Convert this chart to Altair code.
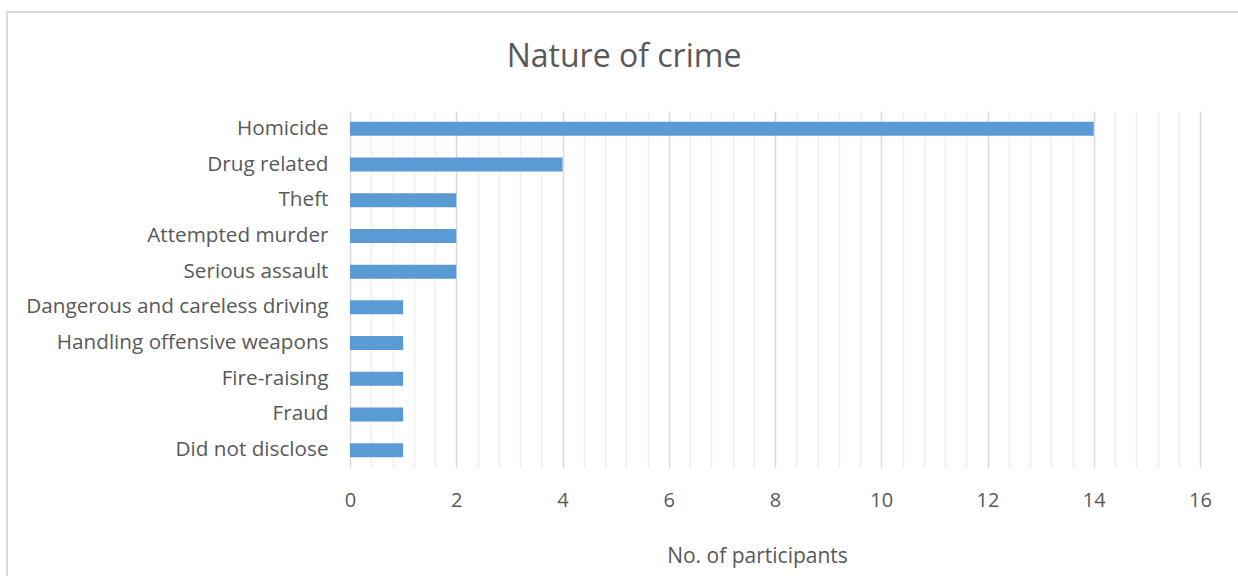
import altair as alt
import pandas as pd

categories = [
    "Homicide",
    "Drug related",
    "Theft",
    "Attempted murder",
    "Serious assault",
    "Dangerous and careless driving",
    "Handling offensive weapons",
    "Fire-raising",
    "Fraud",
    "Did not disclose",
]
counts = [14, 4, 2, 2, 2, 1, 1, 1, 1, 1]
tick_values = [round(i * 0.4, 1) for i in range(41)]

df = pd.DataFrame({"crime": categories, "n": counts})

FONT = "Open Sans"
TXT = "#595959"

major_test = "abs(datum.value - round(datum.value / 2) * 2) < 0.01"

bars = alt.Chart(df).mark_bar(color="#5b9bd5", size=14).encode(
    y=alt.Y(
        "crime:N",
        sort=categories,
        title=None,
        scale=alt.Scale(paddingInner=0, paddingOuter=0),
        axis=alt.Axis(
            domain=False,
            ticks=False,
            grid=False,
            labelPadding=22,
            labelFontSize=20.7,
            labelColor=TXT,
            labelFont=FONT,
            labelLimit=500,
        ),
    ),
    x=alt.X(
        "n:Q",
        title="No. of participants",
        scale=alt.Scale(domain=[0, 16], nice=False),
        axis=alt.Axis(
            values=tick_values,
            labelExpr=f"{major_test} ? format(datum.value, 'd') : ''",
            domain=False,
            ticks=False,
            grid=True,
            gridColor={"condition": {"test": major_test, "value": "#d9d9d9"}, "value": "#f0f0f0"},
            gridWidth=1.5,
            labelPadding=22,
            labelFontSize=20,
            labelColor=TXT,
            labelFont=FONT,
            titleFontSize=21,
            titleFontWeight="normal",
            titleColor=TXT,
            titleFont=FONT,
            titlePadding=35,
            titleX=407,
            labelFlush=False,
            labelOverlap=False,
        ),
    ),
)

frame = alt.Chart(df).mark_rect(fill=None, stroke="#d9d9d9", strokeWidth=1.5).encode(
    x=alt.value(-343), x2=alt.value(950), y=alt.value(-99), y2=alt.value(600)
)

chart = (
    alt.layer(frame, bars)
    .properties(
        width=850,
        height=357,
        padding={"left": 350, "top": 111, "right": 38, "bottom": 108},
        autosize=alt.AutoSizeParams(type="none"),
        title=alt.TitleParams(
            "Nature of crime",
            fontSize=32,
            font=FONT,
            fontWeight="normal",
            color=TXT,
            anchor="middle",
            dx=-151,
            offset=-63,
        ),
        background="white",
    )
    .configure_view(stroke=None)
)

chart.save("out.html", embed_options={"renderer": "svg", "actions": False})
